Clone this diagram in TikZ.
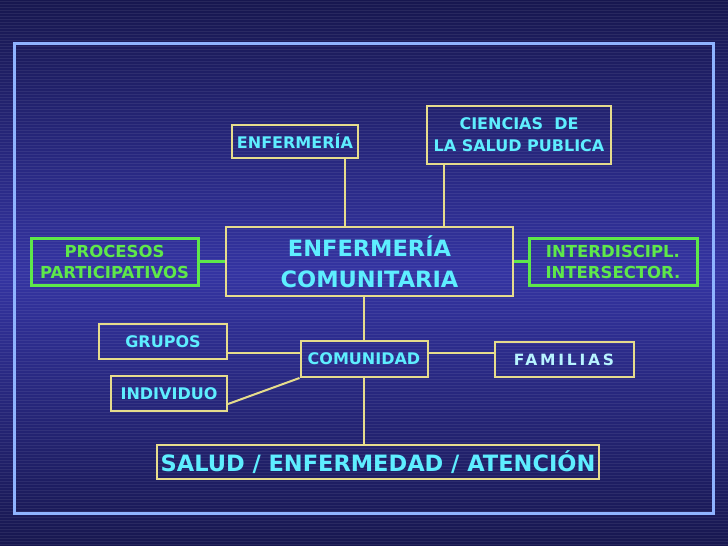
\documentclass[tikz,border=0pt]{standalone}
\usepackage{fontspec}
\setmainfont{DejaVu Sans}
\newfontfamily\anchafont[LetterSpace=18]{DejaVu Sans}
\usetikzlibrary{positioning}

\definecolor{fondoosc}{HTML}{17174F}
\definecolor{fondoclaro}{HTML}{3434A2}
\definecolor{marco}{HTML}{8FB4FF}
\definecolor{amarillo}{HTML}{E6DC8C}
\definecolor{cian}{HTML}{5EEEFF}
\definecolor{cianclaro}{HTML}{B8F4FF}
\definecolor{verdec}{HTML}{5EE84A}

\tikzset{
    caja/.style={draw=amarillo, line width=2pt, text=cian, align=center,
        inner sep=0pt, font=\bfseries\fontsize{16}{22}\selectfont},
    grande/.style={caja, font=\bfseries\fontsize{22.5}{31}\selectfont},
    cajaverde/.style={draw=verdec, line width=3pt, text=verdec, align=center,
        inner sep=0pt, font=\bfseries\fontsize{16.5}{21}\selectfont},
    enlace/.style={draw=amarillo, line width=2pt},
    enlaceverde/.style={draw=verdec, line width=3.5pt},
    raya/.style={white, opacity=0.07, line width=0.9pt}
}

\begin{document}
\begin{tikzpicture}[x=1pt, y=-1pt]
    \useasboundingbox (0,0) rectangle (728,546);
    % fondo
    \shade[top color=fondoosc, bottom color=fondoosc, middle color=fondoclaro]
        (0,0) rectangle (728,546);
    \foreach \y in {1,4,...,546}
        \draw[raya] (0,\y) -- (728,\y);
    \draw[marco, line width=3pt] (14,43) rectangle (713,513);

    % cajas
    \node[caja, minimum width=126pt, minimum height=33pt] (enf) at (295,141.5) {ENFERMERÍA};
    \node[caja, minimum width=184pt, minimum height=58pt] (ciencias) at (519,135)
        {CIENCIAS~~DE\\LA SALUD PUBLICA};
    \node[grande, minimum width=287pt, minimum height=69pt] (comunitaria) at (369.5,261.5)
        {ENFERMERÍA\\COMUNITARIA};
    \node[cajaverde, minimum width=167pt, minimum height=47pt] (procesos) at (114.5,261.5)
        {PROCESOS\\PARTICIPATIVOS};
    \node[cajaverde, minimum width=168pt, minimum height=47pt] (interdis) at (613,261.5)
        {INTERDISCIPL.\\INTERSECTOR.};
    \node[caja, minimum width=127pt, minimum height=36pt] (comunidad) at (364,359) {COMUNIDAD};
    \node[caja, minimum width=128pt, minimum height=35pt] (grupos) at (163,341.5) {GRUPOS};
    \node[caja, minimum width=116pt, minimum height=35pt] (individuo) at (169,393.5) {INDIVIDUO};
    \node[caja, minimum width=139pt, minimum height=35pt, text=cianclaro,
        font=\anchafont\bfseries\fontsize{15.5}{20}\selectfont] (familias) at (564,359.5) {FAMILIAS};
    \node[grande, minimum width=442pt, minimum height=34pt] (salud) at (378,462)
        {SALUD / ENFERMEDAD / ATENCIÓN};

    % enlaces
    \draw[enlace] ([xshift=50pt]enf.south) -- ([xshift=50pt]enf.south |- comunitaria.north);
    \draw[enlace] ([xshift=-75pt]ciencias.south) -- ([xshift=-75pt]ciencias.south |- comunitaria.north);
    \draw[enlaceverde] (procesos.east) -- (procesos.east -| comunitaria.west);
    \draw[enlaceverde] (interdis.west) -- (interdis.west -| comunitaria.east);
    \draw[enlace] (comunidad.north) -- (comunidad.north |- comunitaria.south);
    \draw[enlace] ([yshift=-11.5pt]grupos.east) -- ([yshift=-11.5pt]grupos.east -| comunidad.west);
    \draw[enlace] ([yshift=-10.5pt]individuo.east) -- (comunidad.south west);
    \draw[enlace] ([yshift=6pt]comunidad.east) -- ([yshift=6pt]comunidad.east -| familias.west);
    \draw[enlace] (comunidad.south) -- (comunidad.south |- salud.north);
\end{tikzpicture}
\end{document}
